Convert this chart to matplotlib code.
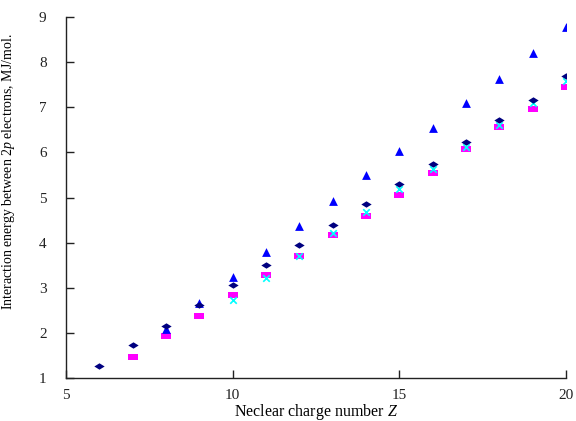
import matplotlib
matplotlib.use("Agg")
import matplotlib.pyplot as plt
from matplotlib.path import Path

plt.rcParams['font.family'] = ['Liberation Serif', 'DejaVu Serif']
plt.rcParams['mathtext.fontset'] = 'custom'
plt.rcParams['mathtext.it'] = 'Liberation Serif:italic'
plt.rcParams['mathtext.rm'] = 'Liberation Serif'

# Data
z_diamond = [6, 7, 8, 9, 10, 11, 12, 13, 14, 15, 16, 17, 18, 19, 20]
e_diamond = [1.27, 1.73, 2.16, 2.62, 3.06, 3.51, 3.95, 4.38, 4.86, 5.31, 5.75, 6.24, 6.71, 7.17, 7.70]

z_triangle = [8, 9, 10, 11, 12, 13, 14, 15, 16, 17, 18, 19, 20]
e_triangle = [2.08, 2.66, 3.24, 3.80, 4.37, 4.93, 5.49, 6.03, 6.54, 7.10, 7.63, 8.21, 8.77]

z_square = [7, 8, 9, 10, 11, 12, 13, 14, 15, 16, 17, 18, 19, 20]
e_square = [1.47, 1.93, 2.37, 2.83, 3.28, 3.70, 4.16, 4.60, 5.06, 5.55, 6.08, 6.57, 6.97, 7.44]

z_cross = [10, 11, 12, 13, 14, 15, 16, 17, 18, 19, 20]
e_cross = [2.73, 3.22, 3.71, 4.21, 4.69, 5.18, 5.63, 6.13, 6.61, 7.09, 7.59]

x_ticks = [5, 10, 15, 20]
y_ticks = [1, 2, 3, 4, 5, 6, 7, 8, 9]

flat_diamond = Path([(-1, 0), (0, 0.62), (1, 0), (0, -0.62), (-1, 0)],
                    [Path.MOVETO, Path.LINETO, Path.LINETO, Path.LINETO, Path.CLOSEPOLY])
flat_rect = Path([(-1, -0.6), (1, -0.6), (1, 0.6), (-1, 0.6), (-1, -0.6)],
                 [Path.MOVETO, Path.LINETO, Path.LINETO, Path.LINETO, Path.CLOSEPOLY])

fig = plt.figure(figsize=(5.76, 4.21), dpi=100)
ax = fig.add_axes([0.1146, 0.1021, 0.868, 0.8575])

ax.scatter(z_cross, e_cross, marker='x', s=22, color='#00FFFF', linewidths=1.2, zorder=3)
ax.scatter(z_square, e_square, marker=flat_rect, s=45, color='#FF00FF', linewidths=0, zorder=2)
ax.scatter(z_triangle, e_triangle, marker='^', s=40, color='#0000FF', linewidths=0, zorder=4)
ax.scatter(z_diamond, e_diamond, marker=flat_diamond, s=55, color='#000080', linewidths=0, zorder=5)

ax.set_xlim(5, 20)
ax.set_ylim(1, 9)
ax.set_xticks(x_ticks)
ax.set_yticks(y_ticks)
ax.spines['top'].set_visible(False)
ax.spines['right'].set_visible(False)
for s in ['left', 'bottom']:
    ax.spines[s].set_linewidth(1.0)
    ax.spines[s].set_color('#222222')
ax.tick_params(direction='in', length=6, width=1.0, labelsize=11, colors='#222222')
ax.tick_params(axis='x', pad=8)
ax.tick_params(axis='y', pad=14)

ax.set_xlabel('Neclear charge number $\\it{Z}$', fontsize=11.5, labelpad=0)
ax.set_ylabel('Interaction energy between $\\it{2p}$ electrons, MJ/mol.', fontsize=10)
ax.yaxis.set_label_coords(-0.098, 0.57)

fig.savefig('out.png', dpi=100)
